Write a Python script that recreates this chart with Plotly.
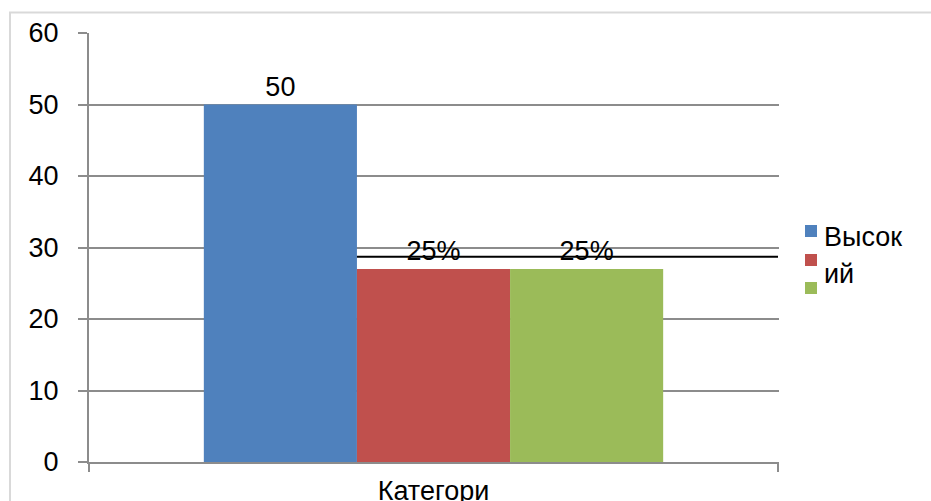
import plotly.graph_objects as go

categories = ["Категори"]
series_names = ["Высок", "ий", ""]
values = [50, 27, 27]
value_labels = ["50", "25%", "25%"]
colors = ["#4F81BD", "#C0504D", "#9BBB59"]
ref_line_value = 28.7
y_ticks = [0, 10, 20, 30, 40, 50, 60]

FONT = "Liberation Sans, Arial, sans-serif"
FS = 27
bargap = 1 / 3

fig = go.Figure()
for name, v, lab, c in zip(series_names, values, value_labels, colors):
    fig.add_trace(go.Bar(
        x=categories, y=[v], name=name, marker=dict(color=c, line=dict(width=0)),
        text=[lab], textposition="outside", cliponaxis=False,
        textfont=dict(family=FONT, size=FS, color="black"), showlegend=False,
    ))

n = len(values)
bar_w = (1 - bargap) / n
x_start = -0.5 + bargap / 2 + bar_w  # left edge of second bar

fig.add_shape(type="line", xref="x", yref="y", x0=x_start, x1=0.5,
              y0=ref_line_value, y1=ref_line_value,
              line=dict(color="black", width=2), layer="above")

# outer chart border
fig.add_shape(type="rect", xref="paper", yref="paper",
              x0=(10 - 89) / 690, x1=1.4, y0=-0.3, y1=1 + (33 - 12.5) / 429,
              line=dict(color="#d9d9d9", width=2), layer="below")

# manual legend
sq = [231, 260, 288]
for yc, c in zip(sq, colors):
    fig.add_shape(type="rect", xref="paper", yref="paper",
                  x0=(805 - 89) / 690, x1=(817 - 89) / 690,
                  y0=(462 - (yc + 6)) / 429, y1=(462 - (yc - 6)) / 429,
                  fillcolor=c, line=dict(width=0))
for txt, yc in [("Высок", 237), ("ий", 274)]:
    fig.add_annotation(xref="paper", yref="paper", x=(822 - 89) / 690,
                       y=(462 - yc) / 429, text=txt, showarrow=False,
                       xanchor="left", yanchor="middle",
                       font=dict(family=FONT, size=FS, color="black"))

fig.update_layout(
    width=931, height=501, autosize=False,
    margin=dict(l=89, r=152, t=33, b=39),
    paper_bgcolor="white", plot_bgcolor="white",
    barmode="group", bargap=bargap, bargroupgap=0,
    showlegend=False,
    font=dict(family=FONT, size=FS, color="black"),
)
fig.update_yaxes(range=[0, 60], tickvals=y_ticks, showgrid=True,
                 gridcolor="#8c8c8c", gridwidth=2, showline=True,
                 linecolor="#8c8c8c", linewidth=2, ticks="outside",
                 ticklen=9, tickwidth=2, tickcolor="#8c8c8c",
                 ticklabelstandoff=14, zeroline=False, automargin=False,
                 tickfont=dict(family=FONT, size=FS, color="black"))
fig.update_xaxes(showline=True, linecolor="#8c8c8c", linewidth=2,
                 ticks="outside", tickson="boundaries", ticklen=8,
                 tickwidth=2, tickcolor="#8c8c8c", ticklabelstandoff=4,
                 automargin=False,
                 tickfont=dict(family=FONT, size=FS, color="black"))

fig.write_html("out.html")
